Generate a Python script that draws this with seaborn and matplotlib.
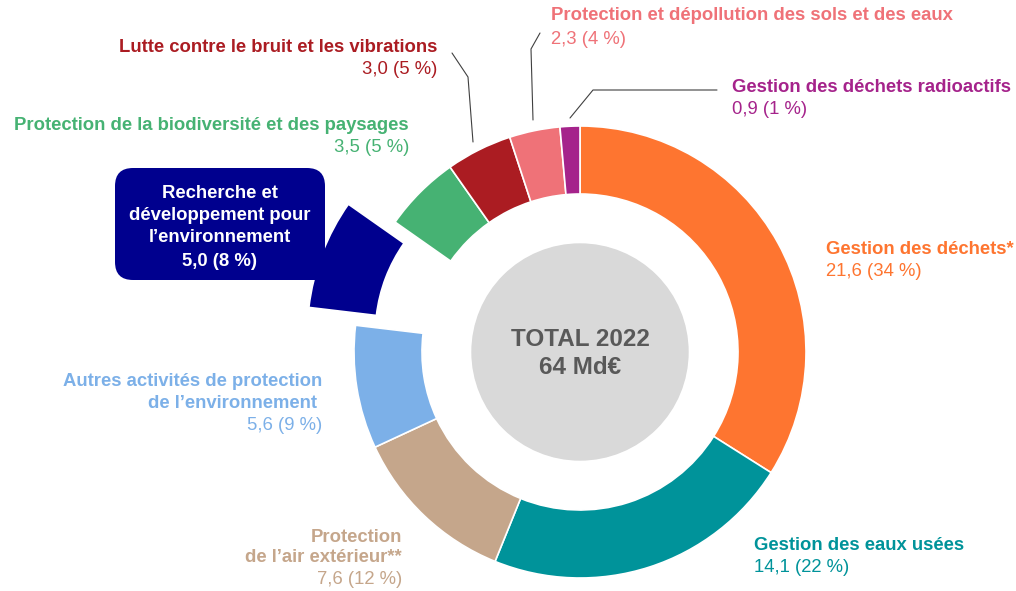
import matplotlib
matplotlib.use("Agg")
import matplotlib.pyplot as plt
import seaborn as sns
from matplotlib.patches import Circle, FancyBboxPatch, Rectangle

# Données (Md€, 2022)
categories = [
    "Gestion des déchets*",
    "Gestion des eaux usées",
    "Protection\nde l\u2019air extérieur**",
    "Autres activités de protection\nde l\u2019environnement ",
    "Recherche et\ndéveloppement pour\nl\u2019environnement",
    "Protection de la biodiversité et des paysages",
    "Lutte contre le bruit et les vibrations",
    "Protection et dépollution des sols et des eaux",
    "Gestion des déchets radioactifs",
]
values = [21.6, 14.1, 7.6, 5.6, 5.0, 3.5, 3.0, 2.3, 0.9]
shares = [34, 22, 12, 9, 8, 5, 5, 4, 1]
colors = ["#FE7530", "#00939A", "#C5A68B", "#7CB0E8", "#00008E",
          "#46B273", "#AB1C22", "#EF7278", "#A5238B"]
total_lines = ["TOTAL 2022", "64 Md€"]

sns.set_theme(style="white")
plt.rcParams["font.family"] = ["Liberation Sans", "DejaVu Sans"]

W, H = 1016, 591
fig = plt.figure(figsize=(W / 100, H / 100), dpi=100)
ax = fig.add_axes([0, 0, 1, 1])

cx, cy, R = 580, H - 352, 226
# explode est en unités absolues (px ici)
explode = [50 if c.startswith("Recherche") else 0 for c in categories]
ax.pie(values, colors=colors, startangle=90, counterclock=False,
       center=(cx, cy), radius=R, explode=explode,
       wedgeprops=dict(width=68, edgecolor="white", linewidth=1.2))
ax.add_patch(Circle((cx, cy), 108, color="#D9D9D9", zorder=3))
for line, y in zip(total_lines, [339, 368]):
    ax.text(cx, H - y, line, ha="center", va="center", fontsize=17.5,
            fontweight="bold", color="#595959", zorder=4)

ax.set_xlim(0, W)
ax.set_ylim(0, H)
ax.set_aspect("equal")
ax.axis("off")


def fmt(v, p):
    return f"{v:.1f}".replace(".", ",") + f" ({p} %)"


FS = 13.3


def label(i, x, ys, ha):
    # ys: centre (px from top) of each line, last one is the value line
    lines = categories[i].split("\n")
    for line, y in zip(lines, ys[:-1]):
        ax.text(x, H - y, line, ha=ha, va="center", fontsize=FS,
                fontweight="bold", color=colors[i])
    ax.text(x, H - ys[-1], fmt(values[i], shares[i]), ha=ha, va="center",
            fontsize=FS, color=colors[i])


label(0, 826, [250, 272], "left")
label(1, 754, [545, 567], "left")
label(2, 402, [537, 558, 580], "right")
label(3, 322, [382, 404, 426], "right")
label(5, 409, [126, 147], "right")
label(6, 437, [47, 70], "right")
label(7, 551, [16, 39], "left")
label(8, 732, [87, 110], "left")

# encadré Recherche (coin bas droit carré, façon bulle)
ax.add_patch(FancyBboxPatch((115, H - 280), 210, 112,
                            boxstyle="round,pad=0,rounding_size=18",
                            facecolor=colors[4], edgecolor="none", zorder=2))
ax.add_patch(Rectangle((300, H - 280), 25, 25, facecolor=colors[4],
                       edgecolor="none", zorder=2))
rlines = categories[4].split("\n") + [fmt(values[4], shares[4])]
for line, y in zip(rlines, [194, 216, 238, 261]):
    ax.text(220, H - y, line, ha="center", va="center", fontsize=FS,
            fontweight="bold", color="white", zorder=3)

# traits de rappel
lc = dict(color="#404040", lw=0.8)
ax.plot([452, 468, 473], [H - 53, H - 77, H - 142], **lc)
ax.plot([540, 531, 533], [H - 33, H - 49, H - 120], **lc)
ax.plot([717, 593, 570], [H - 90, H - 90, H - 118], **lc)

fig.savefig("out.png", dpi=100)
